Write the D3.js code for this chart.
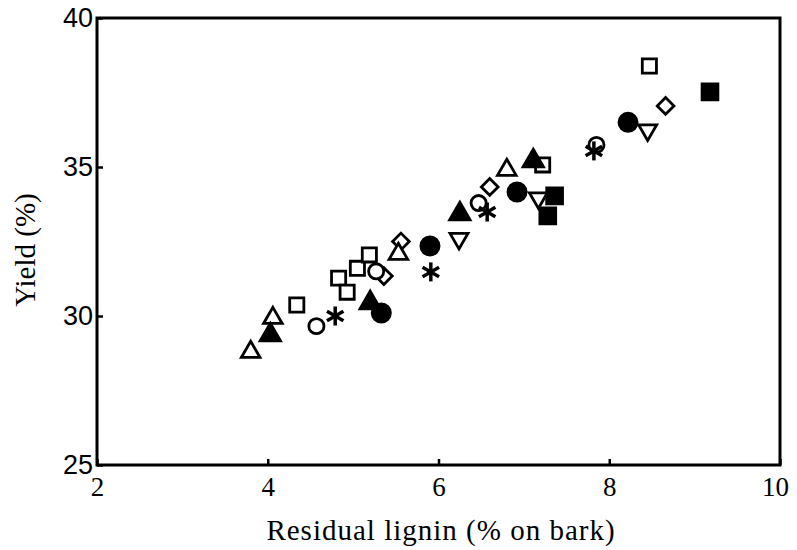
<!DOCTYPE html>
<html>
<head>
<meta charset="utf-8">
<script src="https://cdn.jsdelivr.net/npm/d3@7"></script>
<style>
body { margin: 0; background: #fff; }
</style>
</head>
<body>
<div></div>
<script>
var width = 797;
var height = 550;

// data, one array per marker kind
var openCircle = [[4.57, 29.66], [5.27, 31.5], [6.47, 33.79], [7.85, 35.74]];
var filledCircle = [[5.33, 30.1], [5.90, 32.35], [6.92, 34.16], [8.22, 36.5]];
var openTriangle = [[3.80, 28.79], [4.06, 29.93], [5.53, 32.08], [6.80, 34.9]];
var filledTriangle = [[4.03, 29.36], [5.20, 30.44], [6.25, 33.42], [7.11, 35.2]];
var openSquare = [[4.34, 30.37], [4.83, 31.27], [4.93, 30.8], [5.05, 31.6], [5.19, 32.05], [7.22, 35.07], [8.47, 38.39]];
var filledSquare = [[7.28, 33.36], [7.36, 34.03], [9.18, 37.52]];
var openDiamond = [[5.36, 31.34], [5.56, 32.5], [6.60, 34.33], [8.66, 37.05]];
var downTriangle = [[6.24, 32.6], [7.17, 33.96], [8.45, 36.24]];
var asterisk = [[4.79, 30.0], [5.91, 31.48], [6.57, 33.49], [7.82, 35.54]];

var xTicks = [2, 4, 6, 8, 10];
var yTicks = [25, 30, 35, 40];

var plotLeft = 97, plotRight = 780, plotTop = 18, plotBottom = 465;

var svg = d3.select("div")
	.append("svg")
	.attr("width", width)
	.attr("height", height);

var x = d3.scaleLinear().domain([2, 10]).range([plotLeft, plotRight]);
var y = d3.scaleLinear().domain([25, 40]).range([plotBottom, plotTop]);

// frame
svg.append("rect")
	.attr("x", plotLeft)
	.attr("y", plotTop)
	.attr("width", plotRight - plotLeft)
	.attr("height", plotBottom - plotTop)
	.attr("fill", "none")
	.attr("stroke", "#000")
	.attr("stroke-width", 3);

// inward ticks
var xAxis = svg.append("g")
	.attr("transform", "translate(0," + plotBottom + ")")
	.call(d3.axisBottom(x).tickValues(xTicks).tickSizeInner(-6).tickSizeOuter(0).tickPadding(12));
xAxis.select(".domain").remove();
xAxis.selectAll("line").attr("stroke-width", 2.5);
xAxis.selectAll("text")
	.attr("font-family", "Liberation Serif, serif")
	.attr("font-size", 27)
	.attr("fill", "#000")
	.attr("dx", d => d == 10 ? -5 : 0);

var yAxis = svg.append("g")
	.attr("transform", "translate(" + plotLeft + ",0)")
	.call(d3.axisLeft(y).tickValues(yTicks).tickSizeInner(-6).tickSizeOuter(0).tickPadding(4));
yAxis.select(".domain").remove();
yAxis.selectAll("line").attr("stroke-width", 2.5);
yAxis.selectAll("text")
	.attr("font-family", "Liberation Sans, Arial, sans-serif")
	.attr("font-size", 27)
	.attr("fill", "#000");

svg.append("text")
	.attr("x", 441)
	.attr("y", 540)
	.attr("text-anchor", "middle")
	.attr("font-family", "Liberation Serif, serif")
	.attr("font-size", 29)
	.attr("letter-spacing", 1)
	.text("Residual lignin (% on bark)");

svg.append("text")
	.attr("transform", "translate(35,250) rotate(-90)")
	.attr("text-anchor", "middle")
	.attr("font-family", "Liberation Serif, serif")
	.attr("font-size", 29)
	.text("Yield (%)");

var sw = 2.8;

function drawSymbols(data, type, size, fill, rot) {
	svg.append("g")
		.selectAll("path")
		.data(data)
		.enter()
		.append("path")
		.attr("d", d3.symbol().type(type).size(size))
		.attr("transform", d => "translate(" + x(d[0]) + "," + y(d[1]) + ") rotate(" + (rot || 0) + ")")
		.attr("fill", fill ? "#000" : "#fff")
		.attr("stroke", "#000")
		.attr("stroke-width", sw);
}

drawSymbols(openSquare, d3.symbolSquare, 200, false);
drawSymbols(filledSquare, d3.symbolSquare, 250, true);
drawSymbols(openDiamond, d3.symbolSquare, 140, false, 45);
drawSymbols(openTriangle, d3.symbolTriangle, 150, false);
drawSymbols(filledTriangle, d3.symbolTriangle, 180, true);
drawSymbols(downTriangle, d3.symbolTriangle, 140, false, 180);
drawSymbols(openCircle, d3.symbolCircle, 180, false);
drawSymbols(filledCircle, d3.symbolCircle, 260, true);

// asterisk: three crossing strokes
var star = svg.append("g")
	.selectAll("g")
	.data(asterisk)
	.enter()
	.append("g")
	.attr("transform", d => "translate(" + x(d[0]) + "," + y(d[1]) + ")");
[0, 60, 120].forEach(a => {
	star.append("line")
		.attr("x1", 0).attr("y1", -9.5)
		.attr("x2", 0).attr("y2", 9.5)
		.attr("transform", "rotate(" + a + ")")
		.attr("stroke", "#000")
		.attr("stroke-width", 3.5);
});
</script>
</body>
</html>
